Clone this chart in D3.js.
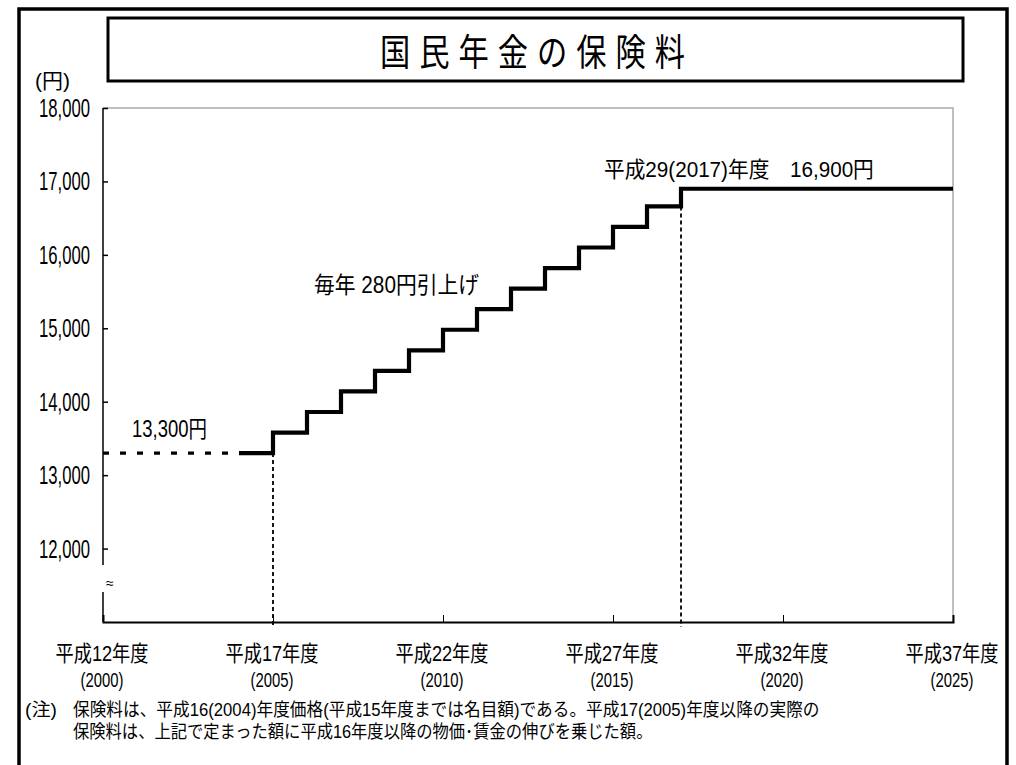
<!DOCTYPE html>
<html>
<head>
<meta charset="utf-8">
<script src="https://cdn.jsdelivr.net/npm/d3@7"></script>
<style>
  body { margin: 0; background: #fff; }
  text { font-family: "Liberation Sans Narrow", "Liberation Sans", "Noto Sans CJK JP", sans-serif; fill: #000; }
</style>
</head>
<body>
<div id="chart"></div>
<script>
// Data
var stepYears = [2004, 2005, 2006, 2007, 2008, 2009, 2010, 2011, 2012, 2013, 2014, 2015, 2016, 2017];
var premiums = [13300, 13580, 13860, 14140, 14420, 14700, 14980, 15260, 15540, 15820, 16100, 16380, 16660, 16900];
var nominalYears = [2000, 2004];   // dashed part, nominal amount 13,300
var nominalValue = 13300;
var markYears = [2005, 2017];      // dotted vertical guides
var xTickYears = [2000, 2005, 2010, 2015, 2020, 2025];
var xTickEra = ["平成12年度", "平成17年度", "平成22年度", "平成27年度", "平成32年度", "平成37年度"];
var yTicks = [12000, 13000, 14000, 15000, 16000, 17000, 18000];

var svgWidth = 1016, svgHeight = 765;

var svg = d3.select("#chart").append("svg")
    .attr("width", svgWidth)
    .attr("height", svgHeight);

// outer frame
svg.append("rect")
    .attr("x", 19).attr("y", 9)
    .attr("width", 988).attr("height", 780)
    .attr("fill", "none").attr("stroke", "#000").attr("stroke-width", 3.5);

// title box
svg.append("rect")
    .attr("x", 108).attr("y", 18)
    .attr("width", 855).attr("height", 63)
    .attr("fill", "none").attr("stroke", "#000").attr("stroke-width", 3);

// the original uses a condensed face: squeeze text to the width it has there
function fitText(sel, str, x, y, size, width, anchor) {
  var t = sel.append("text")
      .style("font-size", size + "px")
      .attr("text-anchor", anchor || "start")
      .text(str);
  var sx = width / t.node().getComputedTextLength();
  t.attr("transform", `translate(${x},${y}) scale(${sx},1)`);
  return t;
}
function squeezeText(sel, str, x, y, size, sx, anchor) {
  return sel.append("text")
      .style("font-size", size + "px")
      .attr("text-anchor", anchor || "start")
      .attr("transform", `translate(${x},${y}) scale(${sx},1)`)
      .text(str);
}
function scaleOf(t) {
  return +/scale\(([^,]+)/.exec(t.attr("transform"))[1];
}

var title = svg.append("text")
    .style("font-size", "37px")
    .style("letter-spacing", "11px")
    .text("国民年金の保険料");
title.attr("transform", `translate(380,66) scale(${314 / title.node().getComputedTextLength()},1)`);

var x = d3.scaleLinear().domain([2000, 2025]).range([103, 953]);
var y = d3.scaleLinear().domain([11000, 18000]).range([622, 108]);

// plot border (top and right in grey)
svg.append("path")
    .attr("d", `M${x(2000)},${y(18000)}H${x(2025)}V${y(11000)}`)
    .attr("fill", "none").attr("stroke", "#aaa").attr("stroke-width", 1.5);

// y axis: inner ticks, labels drawn separately
var leftAxis = d3.axisLeft(y).tickValues(yTicks).tickSize(-5).tickFormat("");
var yAxisG = svg.append("g")
    .attr("transform", `translate(${x(2000)},0)`)
    .call(leftAxis);
yAxisG.select(".domain").remove();
yAxisG.selectAll(".tick line").attr("stroke", "#000").attr("stroke-width", 1.5);

var fmt = d3.format(",");
var ySx = scaleOf(fitText(svg, fmt(yTicks[yTicks.length - 1]), 90, y(18000) + 9, 25, 51, "end"));
yTicks.slice(0, -1).forEach(function(v) {
  squeezeText(svg, fmt(v), 90, y(v) + 9, 25, ySx, "end");
});

// y axis line with a break
svg.append("line")
    .attr("x1", x(2000)).attr("x2", x(2000))
    .attr("y1", y(18000)).attr("y2", 565)
    .attr("stroke", "#000").attr("stroke-width", 1.5);
svg.append("line")
    .attr("x1", x(2000)).attr("x2", x(2000))
    .attr("y1", 592).attr("y2", y(11000))
    .attr("stroke", "#000").attr("stroke-width", 1.5);
squeezeText(svg, "≈", 106, 588, 14, 1, "start");

fitText(svg, "(円)", 35, 88, 21, 35, "start");

// x axis
var bottomAxis = d3.axisBottom(x).tickValues(xTickYears).tickSize(-7).tickFormat("");
var xAxisG = svg.append("g")
    .attr("transform", `translate(0,${y(11000)})`)
    .call(bottomAxis);
xAxisG.select(".domain").attr("stroke", "#000").attr("stroke-width", 2);
xAxisG.selectAll(".tick line").attr("stroke", "#000").attr("stroke-width", 1);

var eraSx = scaleOf(fitText(svg, xTickEra[0], x(xTickYears[0]) - 1, 661, 22, 93, "middle"));
var yrSx = scaleOf(fitText(svg, "(" + xTickYears[0] + ")", x(xTickYears[0]) - 1, 687, 21, 43, "middle"));
xTickYears.slice(1).forEach(function(yr, i) {
  squeezeText(svg, xTickEra[i + 1], x(yr) - 1, 661, 22, eraSx, "middle");
  squeezeText(svg, "(" + yr + ")", x(yr) - 1, 687, 21, yrSx, "middle");
});

// dotted vertical guides
svg.selectAll("line.guide")
    .data(markYears)
    .enter().append("line")
    .attr("class", "guide")
    .attr("x1", d => x(d)).attr("x2", d => x(d))
    .attr("y1", d => y(premiums[stepYears.indexOf(d) - 1]))
    .attr("y2", y(11000) + 5)
    .attr("stroke", "#000").attr("stroke-width", 1.8)
    .attr("stroke-dasharray", "4,3");

// dashed nominal part
svg.append("line")
    .attr("x1", x(nominalYears[0])).attr("x2", x(nominalYears[1]))
    .attr("y1", y(nominalValue)).attr("y2", y(nominalValue))
    .attr("stroke", "#000").attr("stroke-width", 3.3)
    .attr("stroke-dasharray", "6,11");

// step line
var stepData = stepYears.map((yr, i) => [yr, premiums[i]]);
stepData.push([2025, premiums[premiums.length - 1]]);
var stepLine = d3.line()
    .x(d => x(d[0]))
    .y(d => y(d[1]))
    .curve(d3.curveStepAfter);
svg.append("path")
    .datum(stepData)
    .attr("d", stepLine)
    .attr("fill", "none").attr("stroke", "#000").attr("stroke-width", 4.2)
    .attr("stroke-linejoin", "miter");

// annotations
fitText(svg, "13,300円", 132, 437, 23, 75, "start");
fitText(svg, "毎年  280円引上げ", 314, 293, 23, 165, "start");
fitText(svg, "平成29(2017)年度　16,900円", 604, 177, 22, 270, "start");

// note
fitText(svg, "(注)", 25, 716, 18, 32, "start");
fitText(svg, "保険料は、平成16(2004)年度価格(平成15年度までは名目額)である。平成17(2005)年度以降の実際の", 73, 716, 18, 747, "start");
fitText(svg, "保険料は、上記で定まった額に平成16年度以降の物価･賃金の伸びを乗じた額。", 73, 738, 18, 580, "start");
</script>
</body>
</html>
